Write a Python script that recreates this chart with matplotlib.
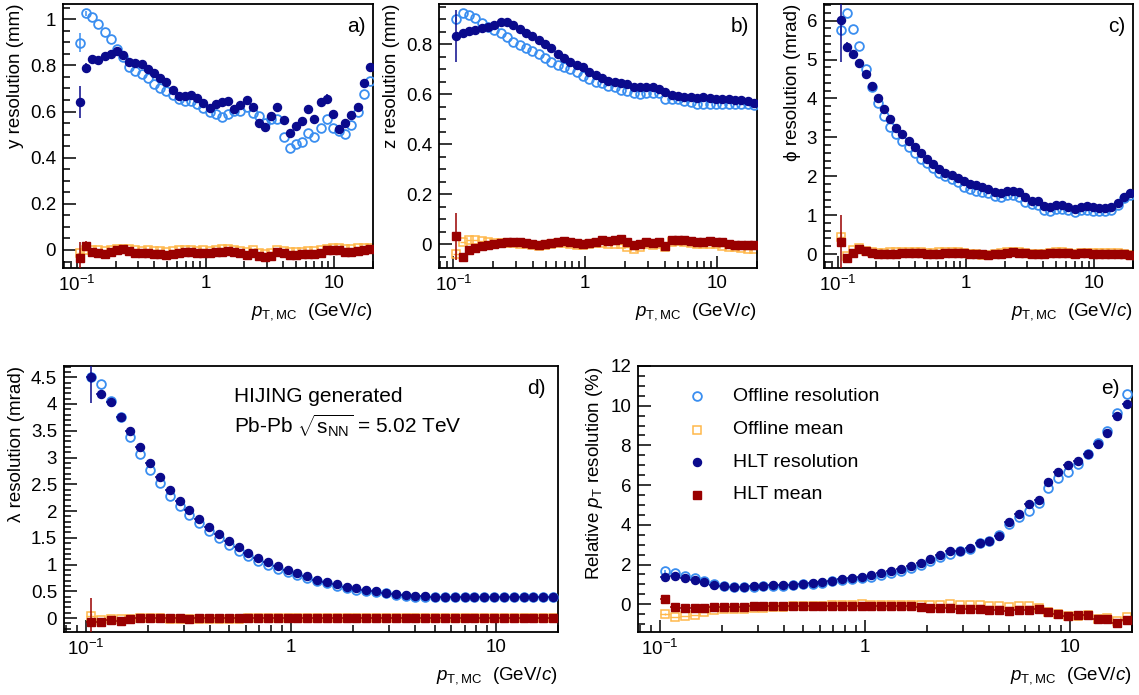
import numpy as np
import matplotlib
matplotlib.use("Agg")
from matplotlib import pyplot as plt
from matplotlib.ticker import FixedLocator, NullFormatter, AutoMinorLocator, FuncFormatter, LogLocator

plt.rcParams['font.family'] = ['Liberation Sans', 'DejaVu Sans']
plt.rcParams['mathtext.fontset'] = 'custom'
plt.rcParams['mathtext.rm'] = 'Liberation Sans'
plt.rcParams['mathtext.it'] = 'Liberation Sans:italic'
plt.rcParams['mathtext.bf'] = 'Liberation Sans:bold'

# binning of the pT axis (48 log bins, 0.1 - 20 GeV/c)
pt_min, pt_max, n_bins = 0.1, 20.0, 48

# ---- a) y resolution (mm)
a_off_res = [0.899, 1.026, 1.009, 0.98, 0.944, 0.913, 0.873, 0.835, 0.795, 0.777, 0.763, 0.746,
             0.72, 0.70, 0.689, 0.672, 0.653, 0.647, 0.645, 0.633, 0.614, 0.60, 0.588, 0.578,
             0.588, 0.604, 0.604, 0.618, 0.592, 0.581, 0.552, 0.568, 0.569, 0.488, 0.441, 0.461,
             0.467, 0.509, 0.491, 0.529, 0.568, 0.529, 0.514, 0.503, 0.542, 0.60, 0.678, 0.734]
a_hlt_res = [0.642, 0.789, 0.829, 0.822, 0.841, 0.851, 0.861, 0.844, 0.816, 0.809, 0.805, 0.785,
             0.767, 0.746, 0.727, 0.694, 0.669, 0.668, 0.671, 0.659, 0.636, 0.614, 0.634, 0.64,
             0.645, 0.613, 0.629, 0.649, 0.621, 0.549, 0.533, 0.582, 0.620, 0.564, 0.509, 0.539,
             0.561, 0.611, 0.568, 0.643, 0.656, 0.59, 0.523, 0.549, 0.584, 0.621, 0.725, 0.792]
a_hlt_mean = [-0.036, 0.017, -0.007, -0.014, -0.019, -0.01, 0.0, 0.003, -0.004, -0.012, -0.014, -0.014,
              -0.017, -0.017, -0.022, -0.017, -0.012, -0.01, -0.01, -0.014, -0.014, -0.014, -0.01, -0.007,
              -0.004, -0.007, -0.014, -0.022, -0.012, -0.026, -0.032, -0.026, -0.007, -0.014, -0.02, -0.022,
              -0.019, -0.017, -0.017, -0.014, 0.0, 0.0, 0.0, -0.007, -0.007, -0.003, 0.0, 0.006]
a_off_mean = [-0.015, 0.0, 0.002, 0.0, -0.005, 0.0, 0.004, 0.006, 0.004, 0.0, -0.004, -0.002,
              -0.005, -0.006, -0.01, -0.006, 0.0, 0.002, 0.0, -0.004, -0.002, -0.006, 0.0, 0.003,
              0.005, 0.002, -0.004, -0.01, 0.002, -0.012, -0.018, -0.012, 0.0, -0.004, -0.01, -0.01,
              -0.008, -0.004, -0.006, 0.0, 0.006, 0.008, 0.008, 0.004, 0.006, 0.01, 0.008, 0.01]
a_err_off_res = [0.04, 0.01]
a_err_hlt_res = [0.07, 0.02, 0.012, 0.012, 0.012, 0.012, 0.012, 0.012, 0.012, 0.012, 0.012, 0.012,
                 0.012, 0.012, 0.012, 0.012, 0.012, 0.012, 0.012, 0.012, 0.012, 0.012, 0.012, 0.012,
                 0.012, 0.012, 0.012, 0.012, 0.012, 0.015, 0.015, 0.015, 0.015, 0.015, 0.015, 0.015,
                 0.015, 0.015, 0.015, 0.015, 0.018, 0.018, 0.018, 0.018, 0.018, 0.018, 0.018, 0.018]
a_err_hlt_mean = [0.07, 0.02]

# ---- b) z resolution (mm)
b_off_res = [0.90, 0.924, 0.917, 0.904, 0.887, 0.871, 0.857, 0.844, 0.828, 0.811, 0.797, 0.784,
             0.775, 0.761, 0.744, 0.729, 0.716, 0.711, 0.70, 0.689, 0.673, 0.66, 0.651, 0.644,
             0.633, 0.628, 0.617, 0.615, 0.604, 0.601, 0.604, 0.604, 0.607, 0.581, 0.583, 0.581,
             0.575, 0.569, 0.56, 0.56, 0.56, 0.561, 0.56, 0.56, 0.56, 0.56, 0.56, 0.556]
b_hlt_res = [0.833, 0.844, 0.855, 0.857, 0.864, 0.868, 0.876, 0.888, 0.891, 0.877, 0.863, 0.844,
             0.833, 0.817, 0.80, 0.784, 0.761, 0.744, 0.729, 0.719, 0.708, 0.691, 0.677, 0.664,
             0.655, 0.651, 0.644, 0.641, 0.628, 0.631, 0.631, 0.631, 0.62, 0.609, 0.599, 0.595,
             0.591, 0.589, 0.584, 0.588, 0.584, 0.583, 0.581, 0.58, 0.577, 0.577, 0.573, 0.567]
b_hlt_mean = [0.031, -0.053, -0.023, -0.015, -0.009, -0.005, 0.0, 0.003, 0.008, 0.01, 0.007, 0.004,
              0.0, -0.003, 0.0, 0.005, 0.01, 0.012, 0.008, 0.004, 0.0, 0.005, 0.01, 0.015,
              0.012, 0.016, 0.02, 0.01, -0.005, 0.0, 0.01, 0.005, 0.008, -0.008, 0.016, 0.017,
              0.015, 0.012, 0.01, 0.01, 0.012, 0.01, 0.008, 0.0, -0.002, -0.003, -0.003, -0.002]
b_off_mean = [-0.04, 0.01, 0.015, 0.016, 0.013, 0.01, 0.006, 0.004, 0.006, 0.006, 0.002, 0.0,
              -0.004, -0.006, -0.004, 0.0, 0.004, 0.006, 0.002, -0.002, -0.004, 0.0, 0.004, 0.006,
              0.002, 0.0, 0.0, -0.01, -0.02, -0.01, 0.0, -0.004, 0.0, -0.01, 0.01, 0.012,
              0.008, 0.004, 0.0, 0.0, 0.002, 0.0, -0.006, -0.01, -0.012, -0.015, -0.018, -0.02]
b_err_hlt_res = [0.105, 0.01]
b_err_hlt_mean = [0.095, 0.015]

# ---- c) phi resolution (mrad)
c_off_res = [5.76, 6.19, 5.78, 5.35, 4.77, 4.30, 3.89, 3.55, 3.27, 3.08, 2.91, 2.76,
             2.60, 2.44, 2.33, 2.20, 2.09, 2.01, 1.93, 1.84, 1.73, 1.67, 1.62, 1.60,
             1.56, 1.49, 1.47, 1.52, 1.52, 1.47, 1.35, 1.29, 1.27, 1.13, 1.11, 1.15,
             1.15, 1.13, 1.09, 1.13, 1.13, 1.11, 1.11, 1.10, 1.13, 1.26, 1.43, 1.53]
c_hlt_res = [6.03, 5.33, 5.14, 4.92, 4.63, 4.32, 4.02, 3.74, 3.47, 3.25, 3.08, 2.91,
             2.76, 2.60, 2.45, 2.31, 2.19, 2.09, 2.03, 1.95, 1.88, 1.80, 1.77, 1.73,
             1.67, 1.60, 1.56, 1.62, 1.63, 1.60, 1.47, 1.36, 1.36, 1.23, 1.20, 1.27,
             1.25, 1.20, 1.17, 1.22, 1.23, 1.20, 1.18, 1.18, 1.22, 1.30, 1.47, 1.58]
c_hlt_mean = [0.30, -0.09, 0.02, 0.12, 0.09, 0.03, 0.01, 0.01, 0.01, 0.01, 0.02, 0.03,
              0.03, 0.02, 0.0, 0.0, 0.01, 0.02, 0.03, 0.03, 0.02, 0.01, 0.0, -0.01,
              -0.03, -0.01, 0.01, 0.03, 0.04, 0.03, 0.02, 0.01, -0.01, -0.01, 0.02, 0.03,
              0.03, 0.02, -0.01, 0.02, 0.02, 0.01, 0.01, 0.01, 0.0, 0.0, -0.01, -0.03]
c_off_mean = [0.45, -0.05, 0.1, 0.15, 0.08, 0.04, 0.03, 0.03, 0.04, 0.04, 0.05, 0.05,
              0.05, 0.04, 0.02, 0.03, 0.04, 0.05, 0.05, 0.04, 0.03, 0.01, -0.01, -0.02,
              -0.02, 0.0, 0.02, 0.04, 0.05, 0.04, 0.03, 0.01, 0.0, 0.0, 0.03, 0.04,
              0.04, 0.02, 0.0, 0.02, 0.03, 0.02, 0.02, 0.03, 0.03, 0.02, 0.0, -0.02]
c_err_hlt_res = [1.1, 0.12]
c_err_hlt_mean = [0.7, 0.1]

# ---- d) lambda resolution (mrad)
d_off_res = [4.50, 4.375, 4.06, 3.75, 3.38, 3.06, 2.77, 2.52, 2.29, 2.10, 1.93, 1.77,
             1.62, 1.49, 1.37, 1.26, 1.16, 1.07, 0.99, 0.92, 0.86, 0.805, 0.75, 0.69,
             0.65, 0.605, 0.56, 0.53, 0.505, 0.487, 0.46, 0.44, 0.42, 0.40, 0.39, 0.385,
             0.385, 0.385, 0.385, 0.385, 0.385, 0.385, 0.385, 0.385, 0.385, 0.385, 0.385, 0.39]
d_hlt_res = [4.51, 4.18, 4.03, 3.75, 3.49, 3.19, 2.90, 2.63, 2.40, 2.19, 2.02, 1.85,
             1.71, 1.57, 1.44, 1.32, 1.21, 1.12, 1.04, 0.97, 0.90, 0.84, 0.78, 0.72,
             0.67, 0.63, 0.59, 0.555, 0.53, 0.505, 0.475, 0.455, 0.43, 0.42, 0.405, 0.39,
             0.39, 0.39, 0.39, 0.39, 0.39, 0.39, 0.39, 0.39, 0.39, 0.39, 0.39, 0.40]
d_hlt_mean = [-0.075, -0.075, -0.04, -0.06, -0.01, 0.005, 0.005, 0.005, 0.0, 0.0, -0.01, 0.0,
              0.0, 0.0, 0.0, -0.005, 0.0, 0.0, 0.0, 0.0, 0.0, 0.0, 0.0, 0.0,
              0.0, 0.0, 0.01, 0.01, 0.01, 0.005, 0.0, 0.01, 0.01, 0.01, 0.005, 0.0,
              0.0, 0.0, 0.0, 0.0, 0.0, 0.01, 0.01, 0.01, 0.01, 0.005, 0.005, 0.005]
d_off_mean = [0.04, -0.03, -0.02, -0.02, -0.01, -0.005, -0.005, -0.005, -0.01, -0.01, -0.01, -0.01,
              -0.01, -0.01, -0.01, -0.01, -0.005, -0.005, -0.005, -0.005, -0.005, -0.005, -0.005, -0.005,
              0.0, 0.0, 0.0, 0.0, 0.0, 0.0, 0.0, 0.0, 0.0, 0.0, 0.0, -0.005,
              -0.005, -0.005, -0.005, -0.005, -0.005, 0.0, 0.0, 0.0, 0.0, 0.0, 0.0, 0.0]
d_err_hlt_res = [0.5, 0.06, 0.03, 0.02]
d_err_hlt_mean = [0.45, 0.05]

# ---- e) relative pT resolution (%)
e_off_res = [1.65, 1.57, 1.42, 1.30, 1.15, 1.01, 0.93, 0.89, 0.89, 0.89, 0.91, 0.93,
             0.94, 0.98, 1.01, 1.04, 1.08, 1.15, 1.21, 1.25, 1.31, 1.38, 1.48, 1.55,
             1.69, 1.82, 1.99, 2.19, 2.39, 2.53, 2.66, 2.80, 3.07, 3.17, 3.51, 4.05,
             4.38, 4.69, 5.11, 5.85, 6.35, 6.66, 7.08, 7.55, 8.12, 8.73, 9.61, 10.58]
e_hlt_res = [1.35, 1.43, 1.31, 1.21, 1.11, 0.98, 0.93, 0.89, 0.89, 0.91, 0.93, 0.96,
             0.98, 0.98, 1.01, 1.06, 1.10, 1.18, 1.25, 1.31, 1.38, 1.45, 1.55, 1.65,
             1.77, 1.90, 2.07, 2.28, 2.49, 2.70, 2.66, 2.83, 3.07, 3.20, 3.46, 4.16,
             4.52, 5.06, 5.26, 6.15, 6.66, 6.99, 7.21, 7.55, 8.09, 8.65, 9.47, 10.11]
e_hlt_mean = [0.25, -0.13, -0.19, -0.19, -0.19, -0.13, -0.13, -0.13, -0.13, -0.10, -0.10, -0.10,
              -0.10, -0.10, -0.10, -0.10, -0.10, -0.10, -0.10, -0.10, -0.10, -0.10, -0.10, -0.10,
              -0.10, -0.10, -0.13, -0.19, -0.19, -0.19, -0.22, -0.22, -0.25, -0.29, -0.30, -0.34,
              -0.30, -0.27, -0.22, -0.39, -0.51, -0.59, -0.56, -0.56, -0.72, -0.76, -0.94, -0.79]
e_off_mean = [-0.51, -0.64, -0.61, -0.54, -0.37, -0.27, -0.25, -0.24, -0.22, -0.17, -0.17, -0.13,
              -0.12, -0.10, -0.08, -0.07, -0.07, -0.05, -0.03, -0.03, 0.0, -0.02, -0.02, -0.02,
              -0.02, -0.02, -0.05, -0.05, -0.05, 0.0, -0.02, -0.02, -0.05, -0.08, -0.08, -0.12,
              -0.07, -0.08, -0.17, -0.37, -0.51, -0.59, -0.59, -0.54, -0.76, -0.71, -0.84, -0.64]
e_err_hlt_res = [0.08, 0.05]
e_err_hlt_mean = [0.1, 0.05]

col_off_res = '#3a8ef0'
col_off_mean = '#ffb84a'
col_hlt_res = '#0a0a8c'
col_hlt_mean = '#990000'

W, H = 1139, 695
fig = plt.figure(figsize=(W / 100, H / 100), dpi=100)


def px_axes(x0, x1, y0, y1):
    return fig.add_axes([x0 / W, (H - y1) / H, (x1 - x0) / W, (y1 - y0) / H])


def pad_err(err):
    out = np.zeros(n_bins)
    out[:len(err)] = err
    return out


def panel(ax, off_res, off_mean, hlt_res, hlt_mean, errs, ylim, ystep, nminor, ylabel, tag):
    edges = np.logspace(np.log10(pt_min), np.log10(pt_max), n_bins + 1)
    x = np.sqrt(edges[:-1] * edges[1:])
    xerr = [x - edges[:-1], edges[1:] - x]
    e_off_r, e_off_m, e_hlt_r, e_hlt_m = [pad_err(e) for e in errs]

    ax.errorbar(x, off_mean, yerr=e_off_m, xerr=xerr, fmt='s', ms=6.0, mfc='none', mec=col_off_mean,
                mew=1.1, ecolor=col_off_mean, elinewidth=1.0, capsize=0, zorder=2)
    ax.errorbar(x, off_res, yerr=e_off_r, fmt='o', ms=6.3, mfc='none', mec=col_off_res,
                mew=1.3, ecolor=col_off_res, elinewidth=1.1, capsize=0, zorder=3)
    ax.errorbar(x, hlt_res, yerr=e_hlt_r, xerr=xerr, fmt='o', ms=5.8, color=col_hlt_res,
                ecolor=col_hlt_res, elinewidth=1.1, capsize=0, zorder=4)
    ax.errorbar(x, hlt_mean, yerr=e_hlt_m, xerr=xerr, fmt='s', ms=6.0, color=col_hlt_mean,
                ecolor=col_hlt_mean, elinewidth=1.1, capsize=0, zorder=5)

    ax.set_xscale('log')
    ax.set_xlim(0.078, 20.0)
    ax.set_ylim(*ylim)
    ax.xaxis.set_major_locator(FixedLocator([0.1, 1, 10]))
    ax.set_xticklabels([r'$10^{-1}$', '1', '10'])
    ax.xaxis.set_minor_locator(LogLocator(base=10, subs=np.arange(2, 10)))
    ax.xaxis.set_minor_formatter(NullFormatter())
    ax.yaxis.set_major_locator(FixedLocator(np.arange(0, ylim[1] + 1e-6, ystep)))
    ax.yaxis.set_major_formatter(FuncFormatter(lambda v, p: '%g' % round(v, 3)))
    ax.yaxis.set_minor_locator(AutoMinorLocator(nminor))
    ax.tick_params(which='both', direction='in', top=False, right=False, labelsize=13.5, width=1.1)
    ax.tick_params(which='major', length=9, pad=5)
    ax.tick_params(which='minor', length=5)
    for s in ax.spines.values():
        s.set_linewidth(1.3)
    ax.set_xlabel(r'$p_{\mathrm{T,MC}}$  (GeV/$c$)', fontsize=13.5, loc='right', labelpad=4)
    ax.set_ylabel(ylabel, fontsize=13.5, loc='top', labelpad=4)
    ax.text(0.975, 0.95, tag, transform=ax.transAxes, ha='right', va='top', fontsize=15)


ax_a = px_axes(63, 373, 4, 268)
panel(ax_a, a_off_res, a_off_mean, a_hlt_res, a_hlt_mean,
      [a_err_off_res, [0.02], a_err_hlt_res, a_err_hlt_mean],
      (-0.078, 1.066), 0.2, 4, 'y resolution (mm)', 'a)')

ax_b = px_axes(439, 757, 4, 268)
panel(ax_b, b_off_res, b_off_mean, b_hlt_res, b_hlt_mean,
      [[0.01], [0.02], b_err_hlt_res, b_err_hlt_mean],
      (-0.096, 0.962), 0.2, 4, 'z resolution (mm)', 'b)')

ax_c = px_axes(824, 1133, 4, 268)
panel(ax_c, c_off_res, c_off_mean, c_hlt_res, c_hlt_mean,
      [[0.1], [0.1], c_err_hlt_res, c_err_hlt_mean],
      (-0.36, 6.43), 1, 5, 'ϕ resolution (mrad)', 'c)')

ax_d = px_axes(64, 558, 366, 632)
panel(ax_d, d_off_res, d_off_mean, d_hlt_res, d_hlt_mean,
      [[0.1], [0.05], d_err_hlt_res, d_err_hlt_mean],
      (-0.26, 4.71), 0.5, 5, 'λ resolution (mrad)', 'd)')
ax_d.text(0.345, 0.885, 'HIJING generated', transform=ax_d.transAxes, ha='left', va='center', fontsize=15)
ax_d.text(0.345, 0.775, r'Pb-Pb $\sqrt{\mathrm{s}_{\mathrm{NN}}}$ = 5.02 TeV', transform=ax_d.transAxes,
          ha='left', va='center', fontsize=15)

ax_e = px_axes(638, 1132, 366, 632)
panel(ax_e, e_off_res, e_off_mean, e_hlt_res, e_hlt_mean,
      [[0.08], [0.05], e_err_hlt_res, e_err_hlt_mean],
      (-1.4, 12.0), 2, 4, r'Relative $p_{\mathrm{T}}$ resolution (%)', 'e)')

# legend, drawn as plain markers + text like the ROOT legend
leg_items = ['Offline resolution', 'Offline mean', 'HLT resolution', 'HLT mean']
leg_style = [dict(marker='o', mfc='none', mec=col_off_res, mew=1.3, ms=6.3),
             dict(marker='s', mfc='none', mec=col_off_mean, mew=1.1, ms=6.0),
             dict(marker='o', color=col_hlt_res, ms=5.8),
             dict(marker='s', color=col_hlt_mean, ms=6.0)]
leg_y = [0.886, 0.76, 0.638, 0.516]
for label, style, yy in zip(leg_items, leg_style, leg_y):
    ax_e.plot([0.12], [yy], transform=ax_e.transAxes, linestyle='none', **style)
    ax_e.text(0.192, yy, label, transform=ax_e.transAxes, ha='left', va='center', fontsize=14)

fig.savefig('out.png', dpi=100)
